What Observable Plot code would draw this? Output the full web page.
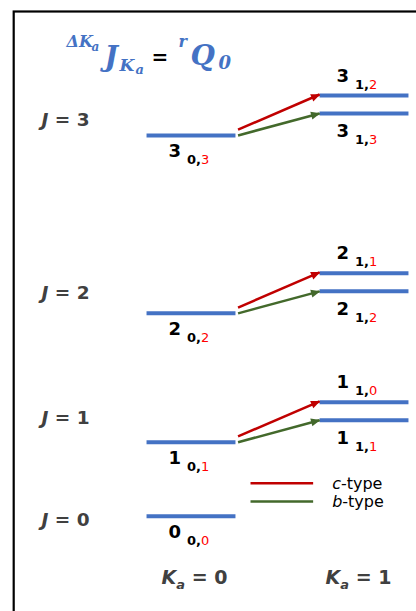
<!DOCTYPE html>
<html><head><meta charset="utf-8">
<script src="https://cdn.jsdelivr.net/npm/d3@7"></script>
<script src="https://cdn.jsdelivr.net/npm/@observablehq/plot@0.6"></script>
<style>
html,body{margin:0;padding:0;background:#fff;}
#chart svg{display:block;overflow:hidden;}
</style></head><body><div id="chart"></div>
<script>
// ---------- data ----------
const levelJ      = [0, 1, 1, 1, 2, 2, 2, 3, 3, 3];
const levelKa     = [0, 0, 1, 1, 0, 1, 1, 0, 1, 1];
const levelKc     = [0, 1, 1, 0, 2, 2, 1, 3, 3, 2];
const levelEnergy = [0, 7.4, 9.6, 11.4, 20.3, 22.5, 24.3, 38.1, 40.3, 42.1];

const transitionJ    = [1, 1, 2, 2, 3, 3];
const transitionType = ["c", "b", "c", "b", "c", "b"]; // c: J0,J -> J1,J-1 ; b: J0,J -> J1,J

const jLabelValues = [0, 1, 2, 3];
const jLabelEnergy = [-0.3, 9.9, 22.4, 39.7];

const kaColumns   = [0, 1];
const legendTypes = ["c", "b"];

// ---------- build tables ----------
const levels = levelJ.map((J, i) => ({J, Ka: levelKa[i], Kc: levelKc[i], E: levelEnergy[i]}));
const transitions = transitionJ.map((J, i) => {
  const type = transitionType[i];
  const lower = levels.find(d => d.J === J && d.Ka === 0);
  const upper = levels.find(d => d.J === J && d.Ka === 1 && d.Kc === (type === "c" ? J - 1 : J));
  return {J, type, E0: lower.E, E1: upper.E, Ka0: lower.Ka, Ka1: upper.Ka};
});
const jLabels = jLabelValues.map((J, i) => ({J, E: jLabelEnergy[i]}));

// ---------- styles ----------
const BLUE = "#4472C4", RED = "#C00000", GREEN = "#43692B", GRAY = "#404040", SUBRED = "#FF0000";
const SANS = "DejaVu Sans", SERIF = "DejaVu Serif";
const W = 0.257;      // half width of a level (x units)
const GAP = 0.015;    // arrow start gap
const LIFT = 0.58;    // c-type arrow start lift (energy units)
const typeColor = {c: RED, b: GREEN};

function triMarker(color, context) {
  const doc = (context && context.document) || document;
  const ns = "http://www.w3.org/2000/svg";
  const m = doc.createElementNS(ns, "marker");
  m.setAttribute("viewBox", "-9 -5 10 10");
  m.setAttribute("markerWidth", 10);
  m.setAttribute("markerHeight", 10);
  m.setAttribute("markerUnits", "userSpaceOnUse");
  m.setAttribute("refX", 0);
  m.setAttribute("refY", 0);
  m.setAttribute("orient", "auto");
  const p = doc.createElementNS(ns, "path");
  p.setAttribute("d", "M-8.5,-4L0.8,0L-8.5,4Z");
  p.setAttribute("fill", color);
  p.setAttribute("stroke", "none");
  m.appendChild(p);
  return m;
}

function arrowMarks(useMarker) {
  return ["c", "b"].map(t => {
    const opts = {
      filter: d => d.type === t,
      x1: d => d.Ka0 + W + GAP,
      x2: d => d.Ka1 - W,
      y1: d => d.E0 + (t === "c" ? LIFT : 0),
      y2: d => d.E1 + (t === "c" ? 0.1 : 0),
      stroke: typeColor[t],
      strokeWidth: 2.5
    };
    if (useMarker) return Plot.link(transitions, {...opts, markerEnd: triMarker});
    return Plot.arrow(transitions, {...opts, headLength: 9, headAngle: 45});
  });
}

function titlePiece(text, dx, dy, size, extra = {}) {
  return Plot.text([text], {
    text: d => d, frameAnchor: "top-left", textAnchor: "start", lineAnchor: "bottom",
    dx, dy, fontSize: size, fontFamily: SERIF, fontWeight: "bold", fontStyle: "italic",
    fill: BLUE, ...extra
  });
}

function levelLabel(filter, dx, dy) {
  return Plot.text(levels, {
    filter, x: "Ka", y: "E", text: d => `§L|${d.J}|${d.Ka},|${d.Kc}`,
    textAnchor: "start", lineAnchor: "bottom", dx, dy,
    fontFamily: SANS, fontWeight: "bold", fontSize: 18, fill: "black"
  });
}

function build(useMarker) {
  return Plot.plot({
    width: 416, height: 611,
    marginLeft: 0, marginRight: 0, marginTop: 0, marginBottom: 0,
    x: {domain: [0, 1], range: [190.5, 363.5], axis: null},
    y: {domain: [0, 42.1], range: [515.7, 95], axis: null},
    style: {background: "white", fontFamily: SANS},
    marks: [
      Plot.frame({stroke: "black", strokeWidth: 2.2, insetLeft: 13.2, insetTop: 11, insetRight: -20, insetBottom: -20}),
      // energy levels
      Plot.link(levels, {x1: d => d.Ka - W, x2: d => d.Ka + W, y1: "E", y2: "E", stroke: BLUE, strokeWidth: 4}),
      // transitions
      ...arrowMarks(useMarker),
      // level labels
      levelLabel(d => d.Ka === 0, -22.5, 22),
      levelLabel(d => d.Ka === 1 && d.Kc === d.J - 1, -27.5, -14),
      levelLabel(d => d.Ka === 1 && d.Kc === d.J, -27.5, 24),
      // J labels
      Plot.text(jLabels, {
        frameAnchor: "left", y: "E", text: d => `§J|${d.J}`, textAnchor: "start", dx: 41, dy: 6.5,
        lineAnchor: "bottom", fontFamily: SANS, fontWeight: "bold", fontSize: 18.5, fill: GRAY
      }),
      // Ka labels
      Plot.text(kaColumns, {
        filter: d => d === 0, x: d => d, frameAnchor: "bottom", text: d => `§K|${d}`, textAnchor: "middle",
        lineAnchor: "bottom", dx: 3.5, dy: -28, fontFamily: SANS, fontWeight: "bold", fontSize: 19, fill: GRAY
      }),
      Plot.text(kaColumns, {
        filter: d => d === 1, x: d => d, frameAnchor: "bottom", text: d => `§K|${d}`, textAnchor: "middle",
        lineAnchor: "bottom", dx: -5.5, dy: -28, fontFamily: SANS, fontWeight: "bold", fontSize: 19, fill: GRAY
      }),
      // legend
      ...legendTypes.map((t, i) => Plot.link([t], {
        x1: 0.344, x2: 0.706, y1: 3.3 - i * 1.83, y2: 3.3 - i * 1.83, stroke: typeColor[t], strokeWidth: 2.5
      })),
      Plot.text(legendTypes, {
        x: 0.706, y: (d, i) => 3.3 - i * 1.83, text: d => `§T|${d}`, textAnchor: "start", lineAnchor: "bottom",
        dx: 19, dy: 5.5, fontFamily: SANS, fontSize: 16, fill: "black"
      }),
      // title  ΔKa J Ka = r Q0
      titlePiece("ΔK", 66, 46, 16),
      titlePiece("a", 91, 50, 12),
      titlePiece("J", 104, 65, 28),
      titlePiece("K", 119, 70, 17),
      titlePiece("a", 135, 73, 13),
      titlePiece("=", 151, 63, 20, {fontFamily: SANS, fontStyle: "normal", fill: "black"}),
      titlePiece("r", 178, 46, 16),
      titlePiece("Q", 190, 64, 28),
      titlePiece("0", 218, 68, 18)
    ]
  });
}

function tspan(parent, text, attrs) {
  const t = document.createElementNS("http://www.w3.org/2000/svg", "tspan");
  t.textContent = text;
  for (const k in attrs) t.setAttribute(k, attrs[k]);
  parent.appendChild(t);
}

function enrich(svg) {
  svg.querySelectorAll("text").forEach(t => {
    const s = t.textContent;
    if (!s.startsWith("§")) return;
    const parts = s.slice(1).split("|");
    t.textContent = "";
    if (parts[0] === "L") {
      tspan(t, parts[1], {});
      tspan(t, parts[2], {"font-size": 13, dx: 6, dy: 7});
      tspan(t, parts[3], {"font-size": 13, "font-weight": "normal", fill: SUBRED});
    } else if (parts[0] === "J") {
      tspan(t, "J", {"font-style": "italic"});
      tspan(t, " = " + parts[1], {});
    } else if (parts[0] === "K") {
      tspan(t, "K", {"font-style": "italic"});
      tspan(t, "a", {"font-style": "italic", "font-size": 13, dy: 5});
      tspan(t, " = " + parts[1], {dy: -5});
    } else if (parts[0] === "T") {
      tspan(t, parts[1], {"font-style": "italic"});
      tspan(t, "-type", {});
    }
  });
}

let chart;
try {
  chart = build(true);
} catch (e) {
  chart = build(false);
}
enrich(chart);
document.getElementById("chart").appendChild(chart);
</script>
</body></html>
